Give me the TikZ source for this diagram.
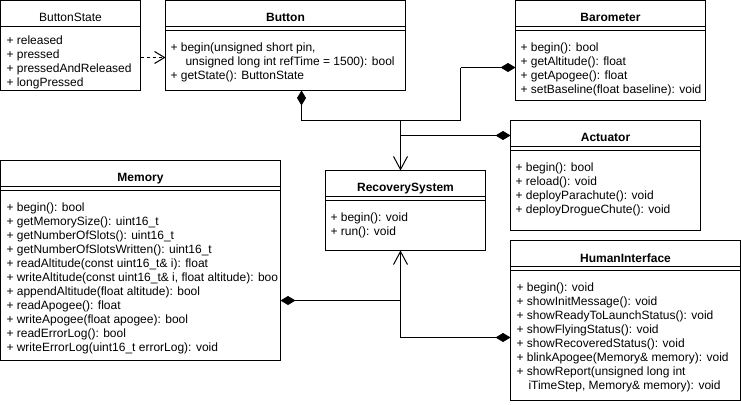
\documentclass[tikz,border=0pt]{standalone}
\usepackage{fontspec}
\setmainfont{Liberation Sans}
\usetikzlibrary{positioning,arrows.meta}

\begin{document}
\begin{tikzpicture}
[x=1pt,y=-1pt,
 every node/.style={inner sep=0mm,outer sep=0mm,font=\fontsize{12}{14}\selectfont},
 cls/.style={draw,rectangle,anchor=north west},
 title/.style={font=\fontsize{12}{14}\selectfont\bfseries},
 mems/.style={align=left},
 comp/.style={-{Diamond[length=15pt,width=9pt]}},
 assoc/.style={-{Straight Barb[length=13pt,width=14pt]}},
 dep/.style={dashed,-{Straight Barb[length=10pt,width=12pt]}},
 line width=1pt]
\useasboundingbox (0,0) rectangle (741,404);
\node[cls,minimum width=140pt,minimum height=90pt]  (bs)   at (0.5,0.5)     {};
\node[cls,minimum width=240pt,minimum height=90pt]  (btn)  at (165.5,0.5)   {};
\node[cls,minimum width=190pt,minimum height=100pt] (baro) at (515.5,0.5)   {};
\node[cls,minimum width=190pt,minimum height=110pt] (act)  at (510.5,120.5) {};
\node[cls,minimum width=280pt,minimum height=200pt] (mem)  at (0.5,160.5)   {};
\node[cls,minimum width=160pt,minimum height=80pt]  (rec)  at (325.5,170.5) {};
\node[cls,minimum width=230pt,minimum height=160pt] (hmi)  at (510.5,240.5) {};
\node        (bsT)   [on grid,below=13pt of bs.north]   {ButtonState};
\node[title] (btnT)  [on grid,below=13pt of btn.north]  {Button};
\node[title] (baroT) [on grid,below=13pt of baro.north] {Barometer};
\node[title] (actT)  [on grid,below=13pt of act.north]  {Actuator};
\node[title] (memT)  [on grid,below=13pt of mem.north]  {Memory};
\node[title] (recT)  [on grid,below=13pt of rec.north]  {RecoverySystem};
\node[title] (hmiT)  [on grid,below=13pt of hmi.north]  {HumanInterface};
\draw ([yshift=-26pt]bs.north west) -- ([yshift=-26pt]bs.north east);
\draw ([yshift=-26pt]btn.north west)  -- ([yshift=-26pt]btn.north east)
      ([yshift=-30pt]btn.north west)  -- ([yshift=-30pt]btn.north east);
\draw ([yshift=-26pt]baro.north west) -- ([yshift=-26pt]baro.north east)
      ([yshift=-30pt]baro.north west) -- ([yshift=-30pt]baro.north east);
\draw ([yshift=-26pt]act.north west)  -- ([yshift=-26pt]act.north east)
      ([yshift=-30pt]act.north west)  -- ([yshift=-30pt]act.north east);
\draw ([yshift=-26pt]mem.north west)  -- ([yshift=-26pt]mem.north east)
      ([yshift=-30pt]mem.north west)  -- ([yshift=-30pt]mem.north east);
\draw ([yshift=-26pt]rec.north west)  -- ([yshift=-26pt]rec.north east)
      ([yshift=-30pt]rec.north west)  -- ([yshift=-30pt]rec.north east);
\draw ([yshift=-26pt]hmi.north west)  -- ([yshift=-26pt]hmi.north east)
      ([yshift=-30pt]hmi.north west)  -- ([yshift=-30pt]hmi.north east);
\node[mems] (bsM)   [below right=34pt and 6pt of bs.north west]
  {\strut+ released\\+ pressed\\+ pressedAndReleased\\+ longPressed};
\node[mems] (btnM)  [below right=41pt and 5pt of btn.north west]
  {\strut+ begin(unsigned short pin,\\\hspace*{15pt}unsigned long int refTime = 1500): bool\\+ getState(): ButtonState};
\node[mems] (baroM) [below right=41pt and 5pt of baro.north west]
  {\strut+ begin(): bool\\+ getAltitude(): float\\+ getApogee(): float\\+ setBaseline(float baseline): void};
\node[mems] (actM)  [below right=41pt and 5pt of act.north west]
  {\strut+ begin(): bool\\+ reload(): void\\+ deployParachute(): void\\+ deployDrogueChute(): void};
\node[mems] (memM)  [below right=41pt and 6pt of mem.north west]
  {\strut+ begin(): bool\\+ getMemorySize(): uint16\_t\\+ getNumberOfSlots(): uint16\_t\\+ getNumberOfSlotsWritten(): uint16\_t\\+ readAltitude(const uint16\_t\& i): float\\+ writeAltitude(const uint16\_t\& i, float altitude): boo\\+ appendAltitude(float altitude): bool\\+ readApogee(): float\\+ writeApogee(float apogee): bool\\+ readErrorLog(): bool\\+ writeErrorLog(uint16\_t errorLog): void};
\node[mems] (recM)  [below right=41pt and 5pt of rec.north west]
  {\strut+ begin(): void\\+ run(): void};
\node[mems] (hmiM)  [below right=41pt and 6pt of hmi.north west]
  {\strut+ begin(): void\\+ showInitMessage(): void\\+ showReadyToLaunchStatus(): void\\+ showFlyingStatus(): void\\+ showRecoveredStatus(): void\\+ blinkApogee(Memory\& memory): void\\+ showReport(unsigned long int\\\hspace*{12pt}iTimeStep, Memory\& memory): void};
\coordinate (j1) at (400.5,120.5);
\coordinate (j2) at (400.5,135.5);
\coordinate (j3) at (400.5,300.5);
\coordinate (j4) at (400.5,337.5);
\coordinate (j5) at (460.5,120.5);
\coordinate (j6) at (460.5,67.5);
\draw[dep]   ([yshift=-12pt]bs.east) -- ([yshift=-12pt]btn.west);
\draw[assoc] (j1) -- (rec.north -| j1);
\draw[comp]  (j1) -| ([xshift=16pt]btn.south);
\draw        (j1) -- (j5) -- (j6);
\draw[comp]  (j6) -- (baro.west |- j6);
\draw[comp]  (j2) -- (act.west |- j2);
\draw[assoc] (j4) -- (rec.south -| j4);
\draw[comp]  (j3) -- (mem.east |- j3);
\draw[comp]  (j4) -- (hmi.west |- j4);
\end{tikzpicture}
\end{document}
